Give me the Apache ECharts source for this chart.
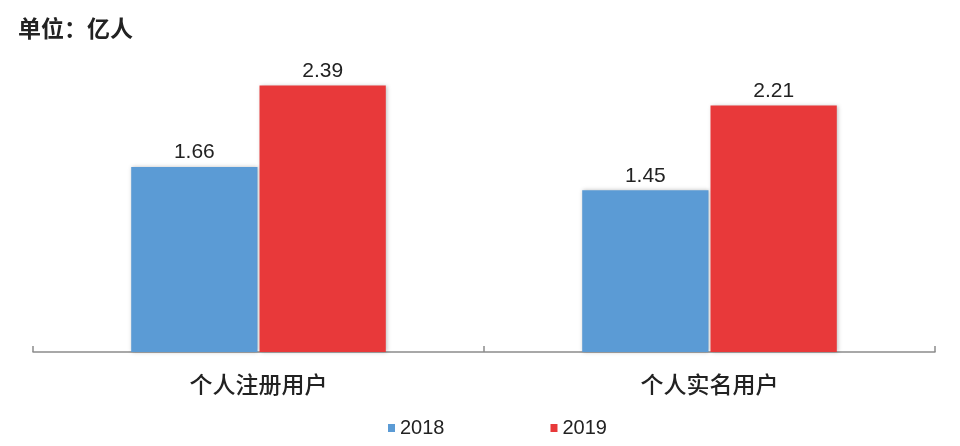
<!DOCTYPE html>
<html>
<head>
<meta charset="utf-8">
<script src="https://cdn.jsdelivr.net/npm/echarts@6/dist/echarts.min.js"></script>
<style>html,body{margin:0;padding:0;background:#fff;}#c{width:960px;height:446px;}</style>
</head>
<body>
<div id="c"></div>
<script>
var categories = ['个人注册用户', '个人实名用户'];
var seriesNames = ['2018', '2019'];
var values2018 = [1.66, 1.45];
var values2019 = [2.39, 2.21];
var unitText = '单位：亿人';

var chart = echarts.init(document.getElementById('c'));
var labelStyle = {
  show: true, position: 'top', distance: 4,
  color: '#222', fontSize: 21, fontFamily: 'Liberation Sans, Arial, sans-serif',
  formatter: function (p) { return p.value.toFixed(2); }
};
chart.setOption({
  animation: false,
  title: {
    text: unitText, left: 13, top: 12,
    textStyle: { fontSize: 23, fontWeight: 'bold', color: '#222', fontFamily: 'Noto Sans CJK SC' }
  },
  legend: {
    data: seriesNames, left: 383, top: 413, icon: 'rect',
    itemWidth: 7, itemHeight: 8, itemGap: 106,
    textStyle: { fontSize: 20, color: '#222', fontFamily: 'Liberation Sans, Arial, sans-serif' }
  },
  grid: { left: 33, right: 25, top: 17.5, bottom: 94, containLabel: false },
  xAxis: {
    type: 'category', data: categories,
    axisLine: { lineStyle: { color: '#8c8c8c', width: 1.5 } },
    axisTick: { show: true, inside: true, length: 6, lineStyle: { color: '#8c8c8c', width: 1.5 } },
    axisLabel: { margin: 21, fontSize: 23, fontWeight: 500, color: '#222', fontFamily: 'Noto Sans CJK SC' }
  },
  yAxis: {
    type: 'value', min: 0, max: 3, show: false, splitLine: { show: false }
  },
  series: [
    {
      name: seriesNames[0], type: 'bar', data: values2018, barWidth: '28%', barGap: '1.6%',
      itemStyle: { color: '#5b9bd5', shadowColor: 'rgba(0,0,0,0.25)', shadowBlur: 4, shadowOffsetX: 1, shadowOffsetY: 0 },
      label: labelStyle
    },
    {
      name: seriesNames[1], type: 'bar', data: values2019, barWidth: '28%', barGap: '1.6%',
      itemStyle: { color: '#e8393a', shadowColor: 'rgba(0,0,0,0.25)', shadowBlur: 4, shadowOffsetX: 1, shadowOffsetY: 0 },
      label: labelStyle
    }
  ]
});
</script>
</body>
</html>
